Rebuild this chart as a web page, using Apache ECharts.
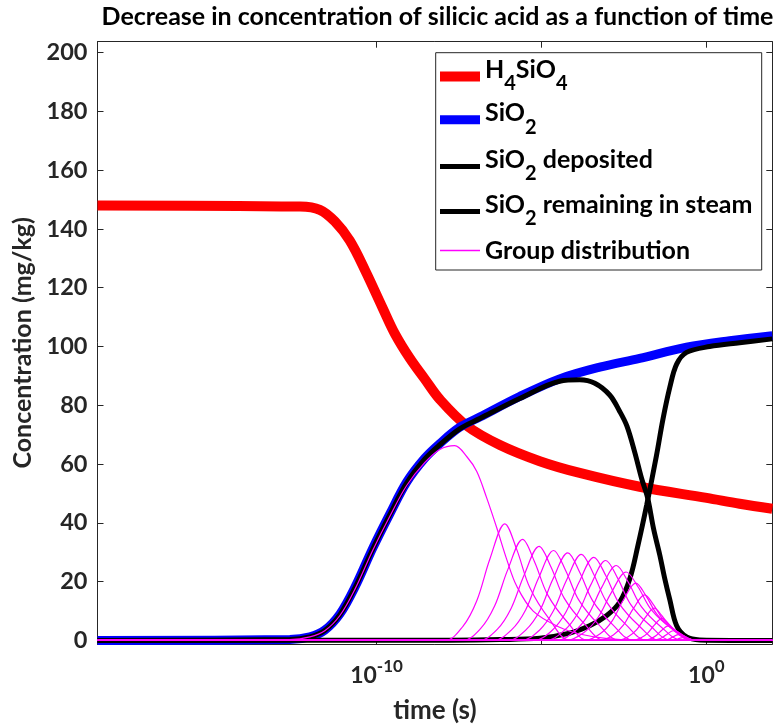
<!DOCTYPE html>
<html><head><meta charset="utf-8">
<script src="https://cdn.jsdelivr.net/npm/echarts@6/dist/echarts.min.js"></script>
<style>html,body{margin:0;padding:0;background:#fff}#c{width:779px;height:727px}</style>
</head><body><div id="c"></div>
<script>
// x values are log10(time / s); y values are concentration (mg/kg)
const xTickExponents = [-10, -5, 0];
const xLabelExponents = [-10, 0];
const yTicks = [0, 20, 40, 60, 80, 100, 120, 140, 160, 180, 200];

const h4sio4 = [[-18.46,148],[-12.32,147.6],[-11.72,146.5],[-11.26,142.5],[-10.81,136],[-10.35,126],[-9.81,113],[-9.45,104.5],[-8.99,96],[-8.54,89],[-8.08,82],[-7.26,73],[-6.26,66.5],[-5.05,61],[-3.84,57],[-2.02,52.3],[0.01,48.5],[1.01,46.5],[2,44.8]];
const sio2 = [[-18.46,0],[-12.63,0.3],[-12.02,1.2],[-11.57,3.5],[-11.11,9],[-10.66,18],[-10.11,31.5],[-9.60,43],[-9.08,54],[-8.54,62],[-8.08,67],[-7.48,72.5],[-6.87,76],[-5.66,83],[-4.45,89],[-3.23,93],[-2.02,96],[-0.60,99.8],[0.71,102],[2,103.7]];
const sio2Deposited = [[-18.46,0],[-7.78,0.1],[-6.26,0.3],[-5.05,0.8],[-4.14,2.5],[-3.54,5],[-3.02,8.5],[-2.63,13],[-2.32,21],[-2.08,32],[-1.81,46],[-1.51,63],[-1.32,75],[-1.11,86],[-0.90,94],[-0.60,98],[0.10,100],[1.01,101.3],[2,102.6]];
const sio2Remaining = [[-18.46,0],[-12.63,0.3],[-12.02,1.2],[-11.57,3.4],[-11.11,8.8],[-10.66,17.8],[-10.11,31.2],[-9.60,42.7],[-9.08,53.7],[-8.54,61.7],[-8.08,66.6],[-7.48,72],[-6.87,75.5],[-5.66,82.3],[-4.45,88.2],[-3.84,88.7],[-3.38,87.5],[-2.93,83.5],[-2.63,78],[-2.41,73],[-2.17,64],[-1.96,55],[-1.78,48.5],[-1.60,38],[-1.41,29],[-1.26,21],[-1.11,14],[-0.90,5],[-0.60,1.2],[-0.20,0.2],[2,0]];

const groupCurves = [
  [[-18.46,0],[-12.63,0.3],[-12.02,1.2],[-11.57,3.3],[-11.11,8.5],[-10.66,17.3],[-10.11,30.8],[-9.60,42.2],[-9.08,52.8],[-8.54,60.5],[-8.08,65],[-7.63,66.3],[-7.26,62.5],[-6.96,57.5],[-6.66,48.5],[-6.36,38.5],[-6.05,27.5],[-5.75,18.5],[-5.25,10],[-4.45,4.5],[-3.84,2.2],[-3.0,0.6],[-2.0,0],[2,0]],
  [[-18.46,0],[-7.93,0],[-7.38,4.8],[-6.96,13.5],[-6.56,27.8],[-6.11,39.7],[-5.75,31.0],[-5.35,17.9],[-4.75,7.1],[-4.11,0],[2,0]],
  [[-18.46,0],[-7.39,0],[-6.84,4.1],[-6.42,11.7],[-6.02,24.1],[-5.57,34.4],[-5.21,26.8],[-4.81,15.5],[-4.21,6.2],[-3.57,0],[2,0]],
  [[-18.46,0],[-6.89,0],[-6.34,3.8],[-5.92,10.9],[-5.52,22.4],[-5.07,32],[-4.71,25.0],[-4.31,14.4],[-3.71,5.8],[-3.07,0],[2,0]],
  [[-18.46,0],[-6.45,0],[-5.90,3.7],[-5.48,10.4],[-5.08,21.4],[-4.63,30.6],[-4.27,23.9],[-3.87,13.8],[-3.27,5.5],[-2.63,0],[2,0]],
  [[-18.46,0],[-6.02,0],[-5.47,3.6],[-5.05,10.1],[-4.65,20.9],[-4.20,29.8],[-3.84,23.2],[-3.44,13.4],[-2.84,5.4],[-2.20,0],[2,0]],
  [[-18.46,0],[-5.61,0],[-5.06,3.5],[-4.64,10.0],[-4.24,20.5],[-3.79,29.3],[-3.43,22.9],[-3.03,13.2],[-2.43,5.3],[-1.79,0],[2,0]],
  [[-18.46,0],[-5.23,0],[-4.68,3.4],[-4.26,9.6],[-3.86,19.8],[-3.41,28.3],[-3.05,22.1],[-2.65,12.7],[-2.05,5.1],[-1.41,0],[2,0]],
  [[-18.46,0],[-4.87,0],[-4.32,3.3],[-3.90,9.2],[-3.50,19.0],[-3.05,27.2],[-2.69,21.2],[-2.29,12.2],[-1.69,4.9],[-1.05,0],[2,0]],
  [[-18.46,0],[-4.55,0],[-4.00,3.1],[-3.58,8.7],[-3.18,17.9],[-2.73,25.5],[-2.37,19.9],[-1.97,11.5],[-1.37,4.6],[-0.73,0],[2,0]],
  [[-18.46,0],[-4.25,0],[-3.70,2.8],[-3.28,7.9],[-2.88,16.3],[-2.43,23.3],[-2.07,18.2],[-1.67,10.5],[-1.07,4.2],[-0.43,0],[2,0]],
  [[-18.46,0],[-3.69,0],[-3.22,2.3],[-2.86,6.6],[-2.52,13.7],[-2.14,19.5],[-1.83,15.2],[-1.49,8.8],[-0.98,3.5],[-0.44,0],[2,0]],
  [[-18.46,0],[-3.24,0],[-2.82,1.9],[-2.51,5.3],[-2.21,10.9],[-1.87,15.5],[-1.60,12.1],[-1.30,7.0],[-0.85,2.8],[-0.37,0],[2,0]],
  [[-18.46,0],[-2.71,0],[-2.37,1.3],[-2.11,3.7],[-1.86,7.7],[-1.58,11],[-1.36,8.6],[-1.11,5.0],[-0.74,2.0],[-0.34,0],[2,0]],
  [[-18.46,0],[-2.25,0],[-1.98,0.9],[-1.77,2.6],[-1.57,5.3],[-1.34,7.5],[-1.16,5.9],[-0.96,3.4],[-0.66,1.4],[-0.34,0],[2,0]],
  [[-18.46,0],[-1.92,0],[-1.69,0.6],[-1.52,1.7],[-1.35,3.5],[-1.16,5],[-1.01,3.9],[-0.84,2.3],[-0.59,0.9],[-0.32,0],[2,0]],
  [[-18.46,0],[-1.67,0],[-1.47,0.4],[-1.32,1.1],[-1.17,2.3],[-1.01,3.3],[-0.88,2.6],[-0.74,1.5],[-0.52,0.6],[-0.29,0],[2,0]],
  [[-18.46,0],[-1.36,0],[-1.21,0.2],[-1.09,0.7],[-0.98,1.4],[-0.85,2],[-0.75,1.6],[-0.64,0.9],[-0.47,0.4],[-0.29,0],[2,0]],
  [[-18.46,0],[-1.12,0],[-1.00,0.1],[-0.91,0.3],[-0.82,0.7],[-0.72,1],[-0.64,0.8],[-0.55,0.5],[-0.42,0.2],[-0.28,0],[2,0]]
];

const legendNames = ['H4SiO4', 'SiO2', 'SiO2 deposited', 'SiO2 remaining in steam', 'Group distribution'];
const legendLabels = [
  '{n|H}{s|4}{n|SiO}{s|4}',
  '{n|SiO}{s|2}',
  '{n|SiO}{s|2}{n| deposited}',
  '{n|SiO}{s|2}{n| remaining in steam}',
  '{p|Group distribution}'
];

const FONT = 'Lato';
const AX = '#262626';

function lineSeries(name, data, color, width) {
  return {
    type: 'line', name: name, data: data, symbol: 'none', showSymbol: false,
    smooth: 0.35, silent: true, animation: false,
    lineStyle: { color: color, width: width },
    itemStyle: { color: color }
  };
}

const series = [
  lineSeries(legendNames[0], h4sio4, '#ff0000', 10),
  lineSeries(legendNames[1], sio2, '#0000ff', 9),
  lineSeries(legendNames[2], sio2Deposited, '#000000', 5),
  lineSeries(legendNames[3], sio2Remaining, '#000000', 5)
];
groupCurves.forEach(function (g) { series.push(lineSeries(legendNames[4], g, '#ff00ff', 1.2)); });

// one legend block per row, so the row positions match the reference box
const legendTops = [57, 100.3, 147, 192, 238];
const legendIcons = ['path://M0,0H40V10H0Z', 'path://M0,0H40V9H0Z', 'path://M0,0H40V5H0Z', 'path://M0,0H40V5H0Z', 'path://M0,0H40V1.5H0Z'];
const legendRich = {
  n: { fontFamily: FONT, fontWeight: 'bold', fontSize: 25, color: '#000', padding: [0, 0, 14, 0] },
  s: { fontFamily: FONT, fontWeight: 'bold', fontSize: 20, color: '#000', padding: [15, 0, 0, 0] },
  p: { fontFamily: FONT, fontWeight: 'bold', fontSize: 25, color: '#000' }
};
const legends = legendNames.map(function (nm, i) {
  return {
    orient: 'vertical', left: 440, top: legendTops[i], padding: 0,
    itemWidth: 40, itemHeight: 14, symbolKeepAspect: true,
    itemStyle: { borderWidth: 0 },
    data: [{ name: nm, icon: legendIcons[i] }],
    formatter: function () { return legendLabels[i]; },
    textStyle: { rich: legendRich },
    z: 5
  };
});

const chart = echarts.init(document.getElementById('c'));
const option = {
  animation: false,
  grid: { left: 97.5, right: 6.7, top: 41.7, bottom: 83, containLabel: false, outerBoundsMode: 'none' },
  graphic: {
    elements: [
      { type: 'text', x: 437.5, y: 17, z: 10,
        style: { text: 'Decrease in concentration of silicic acid as a function of time', fill: '#000',
                 font: 'bold 25px ' + FONT, align: 'center', verticalAlign: 'middle' } },
      { type: 'rect', z: 3, shape: { x: 435.7, y: 52.7, width: 326, height: 217.3 },
        style: { fill: '#fff', stroke: AX, lineWidth: 1 } }
    ]
  },
  legend: legends,
  xAxis: [
    {
      type: 'value', min: -18.46, max: 2, position: 'bottom',
      axisLine: { onZero: false, lineStyle: { color: AX, width: 1 } },
      axisTick: { inside: true, length: 6, customValues: xTickExponents, lineStyle: { color: AX } },
      axisLabel: {
        customValues: xLabelExponents, margin: 19,
        formatter: function (v) { return '{b|10}{sup|' + v + '}'; },
        rich: {
          b: { fontFamily: FONT, fontWeight: 'bold', fontSize: 23, color: AX, lineHeight: 25 },
          sup: { fontFamily: FONT, fontWeight: 'bold', fontSize: 17, color: AX, lineHeight: 19, padding: [0, 0, 17, 0] }
        }
      },
      splitLine: { show: false },
      name: 'time (s)', nameLocation: 'middle', nameGap: 41,
      nameTextStyle: { fontFamily: FONT, fontWeight: 'bold', fontSize: 26, color: AX }
    },
    {
      type: 'value', min: -18.46, max: 2, position: 'top',
      axisLine: { onZero: false, lineStyle: { color: AX, width: 1 } },
      axisTick: { inside: true, length: 6, customValues: xTickExponents, lineStyle: { color: AX } },
      axisLabel: { show: false }, splitLine: { show: false }
    }
  ],
  yAxis: [
    {
      type: 'value', min: -1.2, max: 203.7, position: 'left',
      axisLine: { show: true, onZero: false, lineStyle: { color: AX, width: 1 } },
      axisTick: { show: true, inside: true, length: 6, customValues: yTicks, lineStyle: { color: AX } },
      axisLabel: { customValues: yTicks, margin: 10, fontFamily: FONT, fontWeight: 'bold', fontSize: 23.5, color: AX },
      splitLine: { show: false },
      name: 'Concentration (mg/kg)', nameLocation: 'middle', nameGap: 59, nameRotate: 90,
      nameTextStyle: { fontFamily: FONT, fontWeight: 'bold', fontSize: 25, color: AX }
    },
    {
      type: 'value', min: -1.2, max: 203.7, position: 'right',
      axisLine: { show: true, onZero: false, lineStyle: { color: AX, width: 1 } },
      axisTick: { show: true, inside: true, length: 6, customValues: yTicks, lineStyle: { color: AX } },
      axisLabel: { show: false }, splitLine: { show: false }
    }
  ],
  series: series
};
chart.setOption(option);
</script></body></html>
